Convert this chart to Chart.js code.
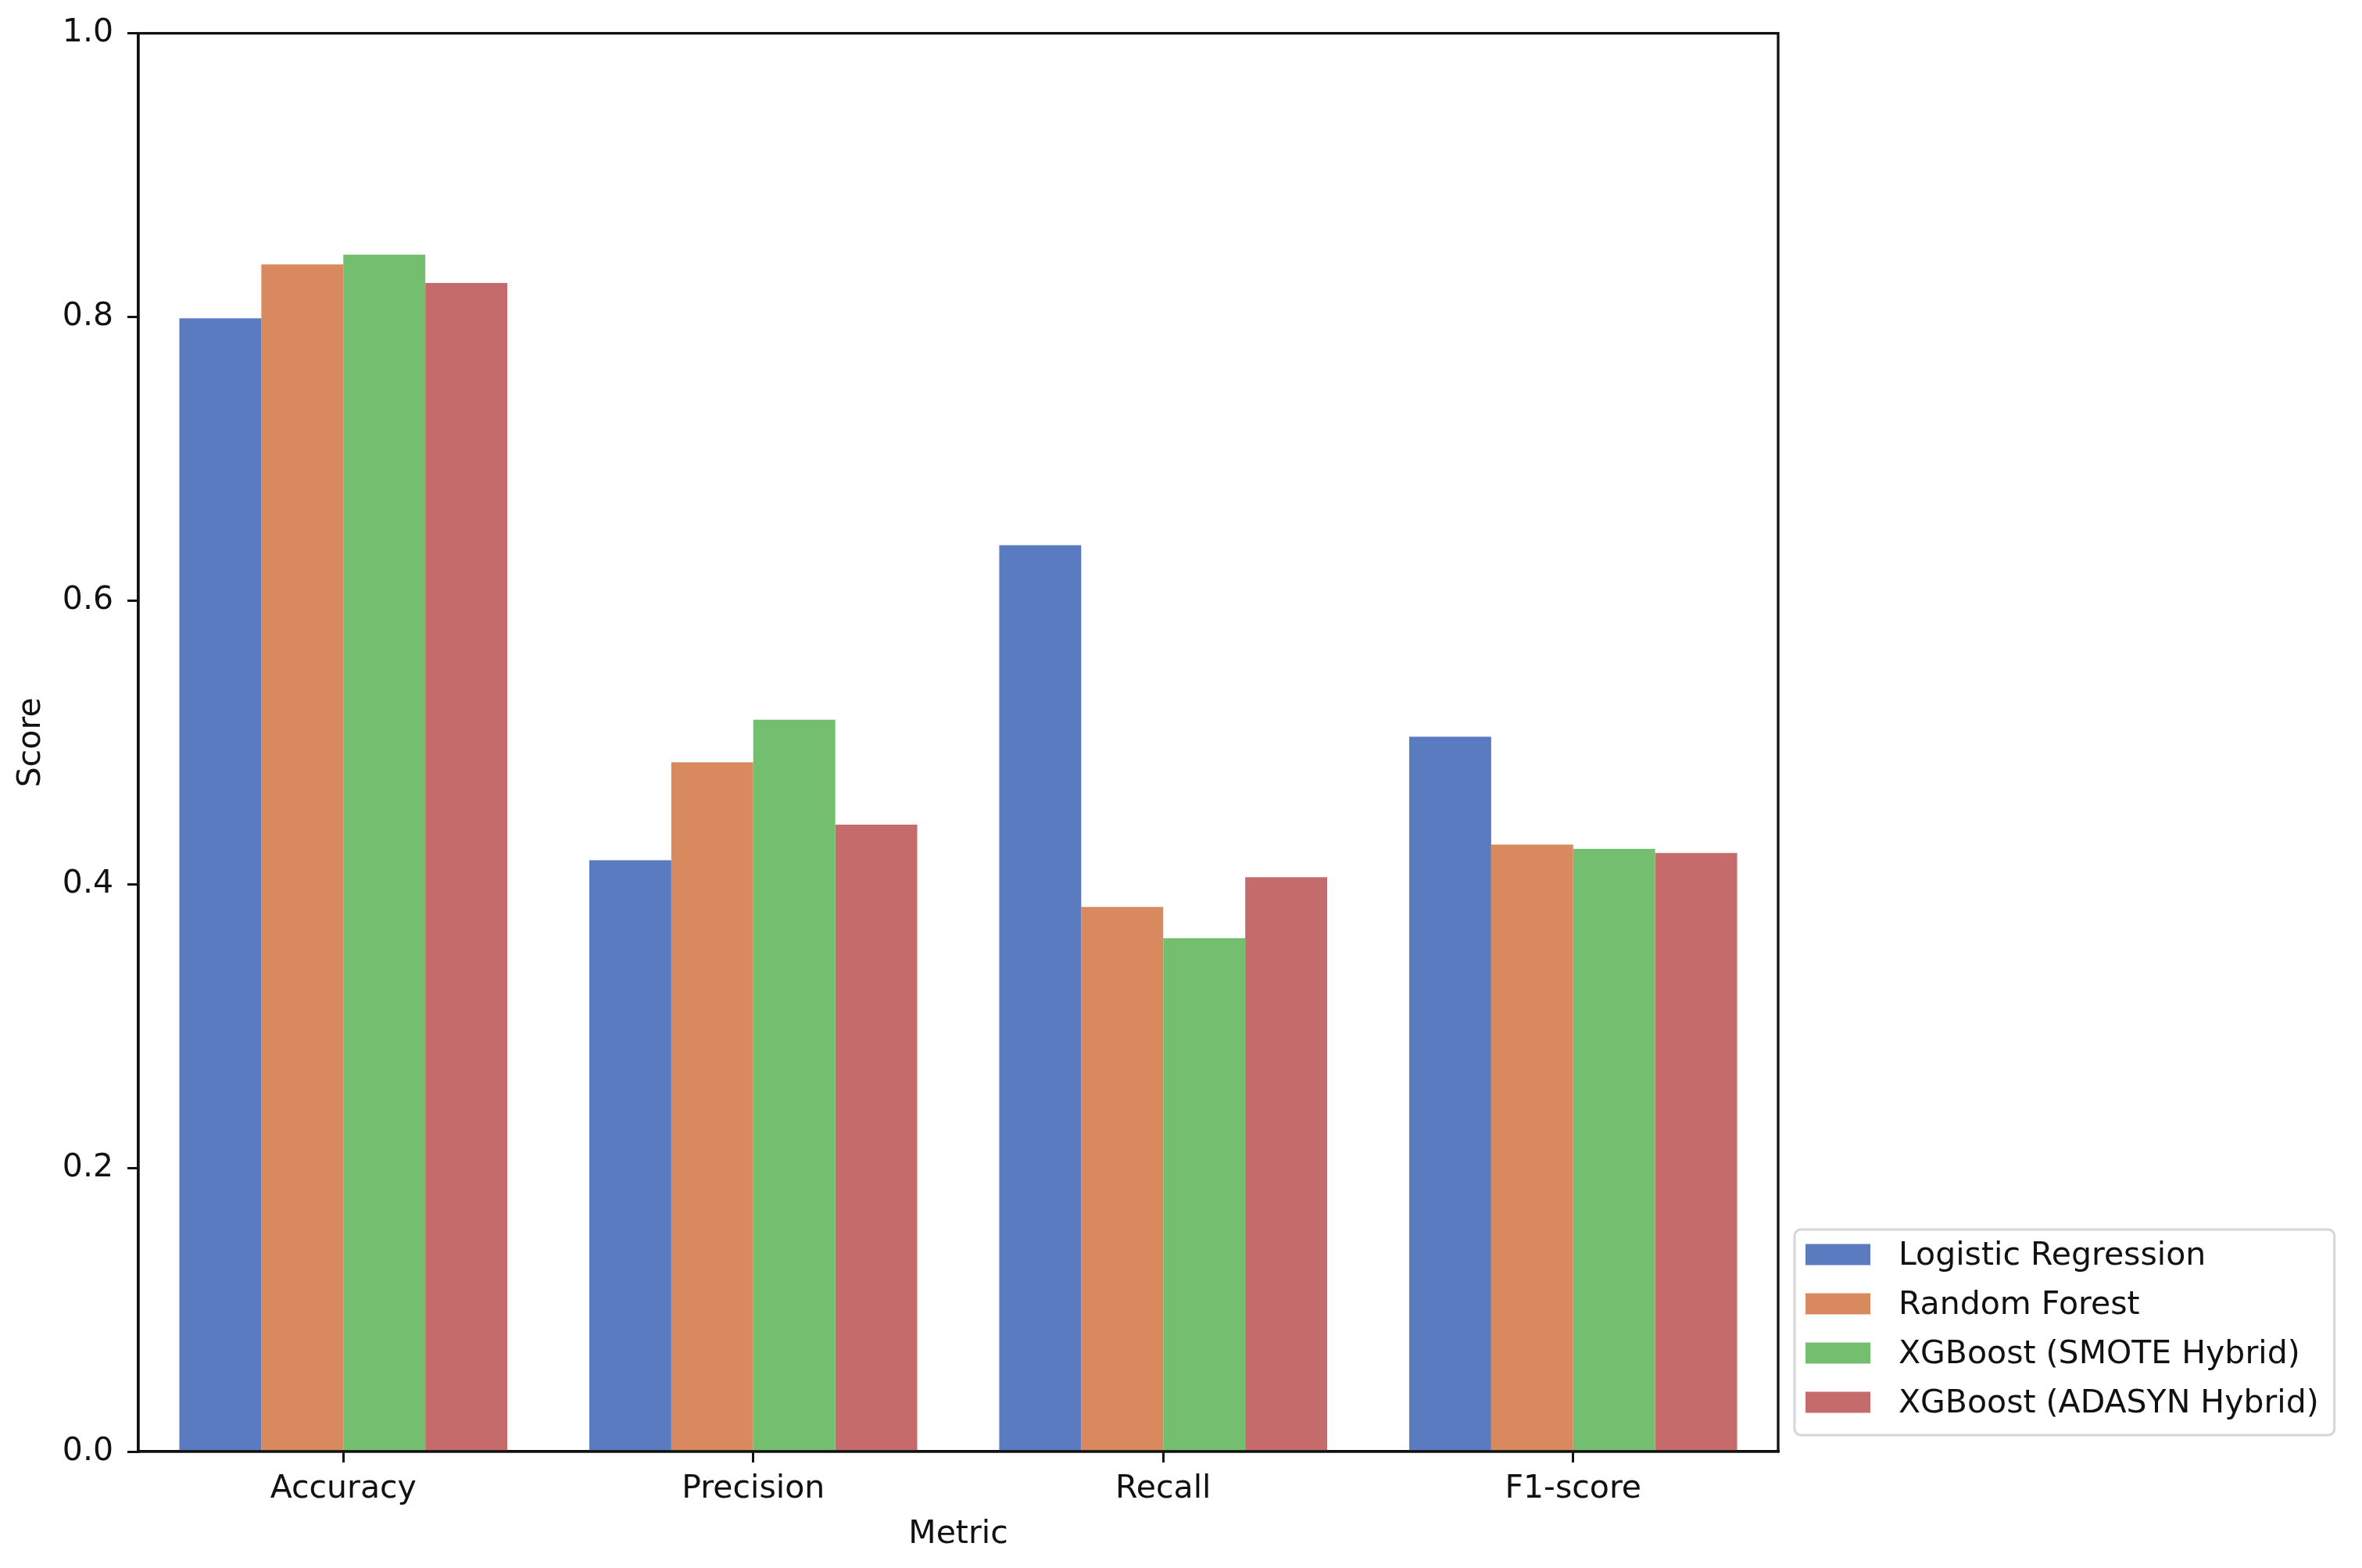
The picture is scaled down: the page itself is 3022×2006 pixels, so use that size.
<!DOCTYPE html>
<html>
<head>
<meta charset="utf-8">
<script src="https://cdn.jsdelivr.net/npm/chart.js@4"></script>
<style>
  html, body { margin: 0; padding: 0; background: #fff; }
  canvas { display: block; }
</style>
</head>
<body>
<canvas id="chart" width="3022" height="2006"></canvas>
<script>
// data
const metrics = ['Accuracy', 'Precision', 'Recall', 'F1-score'];
const models = ['Logistic Regression', 'Random Forest', 'XGBoost (SMOTE Hybrid)', 'XGBoost (ADASYN Hybrid)'];
const logisticScores = [0.799, 0.417, 0.639, 0.504];
const forestScores = [0.837, 0.486, 0.384, 0.428];
const smoteScores = [0.844, 0.516, 0.362, 0.425];
const adasynScores = [0.824, 0.442, 0.405, 0.422];
const yTicks = [0, 0.2, 0.4, 0.6, 0.8, 1.0];

const colors = ['#5a7bc0', '#d88a5e', '#74bf6f', '#c56b6b'];
const FONT = 'DejaVu Sans';
const FS = 41;

const series = [logisticScores, forestScores, smoteScores, adasynScores];
const datasets = series.map((vals, i) => ({
    label: models[i],
    data: vals,
    backgroundColor: colors[i],
    borderWidth: 0,
    categoryPercentage: 0.8,
    barPercentage: 1.0
}));

// frame round the plot + matplotlib style legend outside on the right
const framePlugin = {
    id: 'frame',
    afterDatasetsDraw(chart) {
        const a = chart.chartArea;
        const ctx = chart.ctx;
        ctx.save();
        ctx.strokeStyle = '#111';
        ctx.lineWidth = 3.3;
        ctx.strokeRect(a.left, a.top, a.right - a.left, a.bottom - a.top);
        ctx.restore();
    },
    afterDraw(chart) {
        const a = chart.chartArea;
        const ctx = chart.ctx;
        ctx.save();
        ctx.font = FS + 'px "' + FONT + '"';
        let maxW = 0;
        models.forEach(m => { maxW = Math.max(maxW, ctx.measureText(m).width); });
        const left = a.right + 21;
        const bottom = a.bottom - 21;
        const h = 263;
        const top = bottom - h;
        const w = 133 + maxW + 20;
        ctx.beginPath();
        ctx.roundRect(left, top, w, h, 8);
        ctx.fillStyle = 'rgba(255,255,255,0.8)';
        ctx.fill();
        ctx.strokeStyle = '#d6d6d6';
        ctx.lineWidth = 3;
        ctx.stroke();
        ctx.textBaseline = 'middle';
        ctx.textAlign = 'left';
        models.forEach((m, i) => {
            const cy = top + 32 + i * 63;
            ctx.fillStyle = colors[i];
            ctx.fillRect(left + 14, cy - 13.5, 83, 27);
            ctx.fillStyle = '#111';
            ctx.fillText(m, left + 133, cy + 2);
        });
        ctx.restore();
    }
};

new Chart(document.getElementById('chart'), {
    type: 'bar',
    data: {
        labels: metrics,
        datasets: datasets
    },
    options: {
        responsive: false,
        animation: false,
        devicePixelRatio: 1,
        layout: {
            padding: { left: 0, top: 42, right: 747, bottom: 0 }
        },
        plugins: {
            legend: { display: false },
            tooltip: { enabled: false }
        },
        scales: {
            x: {
                grid: {
                    offset: false,
                    drawOnChartArea: false,
                    drawTicks: true,
                    tickLength: 14,
                    color: '#111',
                    lineWidth: 3
                },
                border: { display: true, color: '#111', width: 3.3 },
                ticks: {
                    color: '#111',
                    padding: 10,
                    font: { family: FONT, size: FS }
                },
                title: {
                    display: true,
                    text: 'Metric',
                    color: '#111',
                    font: { family: FONT, size: FS },
                    padding: { top: 0, bottom: 18 }
                },
                afterFit(scale) { scale.height = 149; }
            },
            y: {
                min: 0,
                max: 1,
                afterBuildTicks(scale) {
                    scale.ticks = yTicks.map(v => ({ value: v }));
                },
                grid: {
                    drawOnChartArea: false,
                    drawTicks: true,
                    tickLength: 14,
                    color: '#111',
                    lineWidth: 3
                },
                border: { display: true, color: '#111', width: 3.3 },
                ticks: {
                    color: '#111',
                    padding: 18,
                    font: { family: FONT, size: FS },
                    callback: v => Number(v).toFixed(1)
                },
                title: {
                    display: true,
                    text: 'Score',
                    color: '#111',
                    font: { family: FONT, size: FS },
                    padding: { top: 16, bottom: 0 }
                },
                afterFit(scale) { scale.width = 177; }
            }
        }
    },
    plugins: [framePlugin]
});
</script>
</body>
</html>
